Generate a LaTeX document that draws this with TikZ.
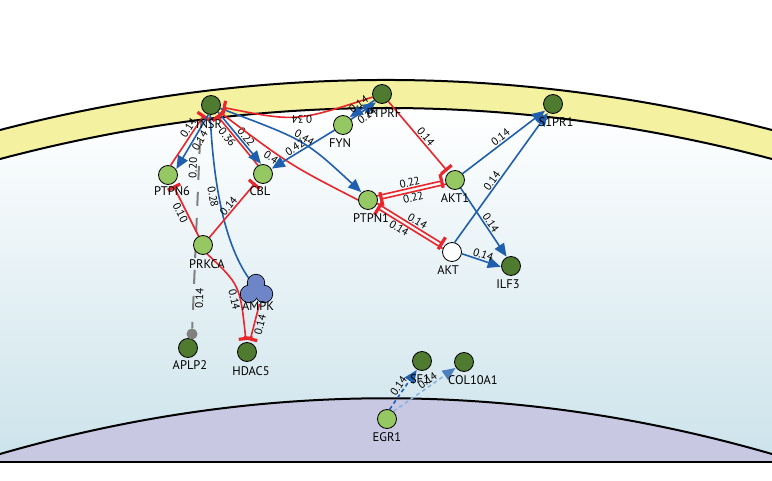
\documentclass[tikz,border=0pt]{standalone}
\usepackage{fontspec}
\setmainfont{PT Sans}
\usetikzlibrary{arrows.meta}
\definecolor{memyellow}{HTML}{F4F1A0}
\definecolor{cellblue}{HTML}{CCE3EB}
\definecolor{nucpurple}{HTML}{C8C8E3}
\definecolor{lgreen}{HTML}{95C763}
\definecolor{dgreen}{HTML}{4E7B30}
\definecolor{ered}{HTML}{E8262B}
\definecolor{eblue}{HTML}{1F5FAE}
\definecolor{elblue}{HTML}{8DB3DF}
\definecolor{ampkblue}{HTML}{6E85C8}
\definecolor{greyedge}{HTML}{808080}
\pgfdeclarelayer{bg}
\pgfdeclarelayer{edges}
\pgfsetlayers{bg,edges,main}
\begin{document}
\begin{tikzpicture}[x=1pt,y=-1pt,
  gene/.style={circle,draw=black,line width=0.8pt,minimum size=19pt,inner sep=0pt},
  lg/.style={gene,fill=lgreen},
  dg/.style={gene,fill=dgreen},
  wg/.style={gene,fill=white},
  lab/.style={font=\fontsize{12.5}{13}\selectfont,text=black,inner sep=0pt},
  elabf/.style={font=\fontsize{11}{11}\selectfont,text=black,inner sep=1pt},
  elab/.style={elabf,sloped},
  act/.style={eblue,line width=1.6pt,-{Triangle[width=11pt,length=13pt]},shorten >=0.5pt},
  actd/.style={act,dash pattern=on 4pt off 3pt},
  actl/.style={elblue,line width=1.6pt,dash pattern=on 4pt off 3pt,-{Triangle[width=11pt,length=13pt,fill=eblue!80,color=eblue!80]},shorten >=0.5pt},
  inh/.style={ered,line width=1.6pt,-{Bar[width=14pt,line width=3.2pt]},shorten >=2pt},
  gline/.style={greyedge,line width=2pt,dash pattern=on 14pt off 12pt}
]
\useasboundingbox (0,0) rectangle (772,481);
\begin{pgfonlayer}{bg}
\fill[white] (0,0) rectangle (772,481);
\begin{scope}
\clip (0,159) .. controls (257.3,91) and (514.7,91) .. (772,159) -- (772,462) -- (0,462) -- cycle;
\shade[top color=white,bottom color=cellblue] (0,108) rectangle (772,462);
\end{scope}
\fill[memyellow] (0,130) .. controls (257.3,63.3) and (514.7,63.3) .. (772,130) -- (772,159) .. controls (514.7,91) and (257.3,91) .. (0,159) -- cycle;
\draw[line width=2pt] (0,130) .. controls (257.3,63.3) and (514.7,63.3) .. (772,130);
\draw[line width=2pt] (0,159) .. controls (257.3,91) and (514.7,91) .. (772,159);
\fill[nucpurple] (0,454) .. controls (257.3,379.7) and (514.7,379.7) .. (772,454) -- (772,462) -- (0,462) -- cycle;
\draw[line width=2pt] (0,454) .. controls (257.3,379.7) and (514.7,379.7) .. (772,454);
\draw[line width=2pt] (0,462) -- (772,462);
\end{pgfonlayer}

% nodes
\node[dg] (INSR) at (211,105) {};
\node[dg] (PTPRF) at (382,94) {};
\node[lg] (FYN) at (343,125) {};
\node[dg] (S1PR1) at (553,104) {};
\node[lg] (PTPN6) at (168,175) {};
\node[lg] (CBL) at (263,174) {};
\node[lg] (PTPN1) at (368,200) {};
\node[lg] (AKT1) at (455,180) {};
\node[wg] (AKT) at (452,252) {};
\node[dg] (ILF3) at (511,266) {};
\node[lg] (PRKCA) at (203,245) {};
\node[circle,minimum size=28pt,inner sep=0pt] (AMPK) at (257,290) {};
\foreach \a/\b in {256/283,249/294,264/294} \draw[line width=1.6pt] (\a,\b) circle[radius=8.3];
\foreach \a/\b in {256/283,249/294,264/294} \fill[ampkblue] (\a,\b) circle[radius=8.3];
\node[dg] (APLP2) at (188,348) {};
\node[circle,fill=greyedge,minimum size=11pt,inner sep=0pt] (gdot) at (192,334) {};
\node[dg] (HDAC5) at (247,352) {};
\node[dg] (SF1) at (422,361) {};
\node[dg] (COL10A1) at (464,362) {};
\node[lg] (EGR1) at (387,419) {};
\coordinate (g0) at (200,140);

% labels
\node[lab] (INSRl) at (209,124) {INSR};
\node[lab] (PTPRFl) at (384,113) {PTPRF};
\node[lab] (FYNl) at (340,143) {FYN};
\node[lab] (S1PR1l) at (556,122) {S1PR1};
\node[lab] (PTPN6l) at (172,191) {PTPN6};
\node[lab] (CBLl) at (260,191) {CBL};
\node[lab] (PTPN1l) at (371,218) {PTPN1};
\node[lab] (AKT1l) at (455,198) {AKT1};
\node[lab] (AKTl) at (448,270) {AKT};
\node[lab] (ILF3l) at (508,284) {ILF3};
\node[lab] (PRKCAl) at (207,264) {PRKCA};
\node[lab] (AMPKl) at (258,306) {AMPK};
\node[lab] (APLP2l) at (190,365) {APLP2};
\node[lab] (HDAC5l) at (251,371) {HDAC5};
\node[lab] (SF1l) at (420,379) {SF1};
\node[lab] (COL10A1l) at (473,380) {COL10A1};
\node[lab] (EGR1l) at (387,437) {EGR1};

\begin{pgfonlayer}{edges}
% grey dashed
\draw[gline] (g0) -- (gdot) node[elab,pos=.15,above]{0.20} node[elab,pos=.84,below]{0.14};
% INSR neighbourhood
\draw[inh] (PTPRF) .. controls (296,122) .. (INSR) node[elabf,pos=.45,above=3pt,rotate=180]{0.34};
\draw[inh] (PTPN6.75) -- (INSR.235) node[elab,pos=.65,above]{0.14};
\draw[act] (INSR.255) -- (PTPN6.35) node[elab,pos=.42,below]{0.14};
\draw[inh] (CBL.120) -- (INSR.-62) node[elab,pos=.62,below]{0.36};
\draw[act] (INSR.-45) -- (CBL.100) node[elab,pos=.55,above]{0.22};
\draw[act] (INSR.-20) .. controls (305,140) .. (PTPN1.130) node[elab,pos=.5,above]{0.44};
\draw[inh] (PTPN1.180) .. controls (290,165) .. (INSR.-40) node[elab,pos=.62,below]{0.42};
\draw[act] (FYN) -- (CBL) node[elab,pos=.58,above]{0.42};
\draw[eblue,line width=1.6pt] (INSR.265) .. controls (213,175) and (222,240) .. (AMPK.125) node[elab,pos=.45,below]{0.28};
% PTPRF / FYN
\draw[act] (PTPRF.220) -- (FYN.50) node[elab,pos=.5,above]{0.14};
\draw[act] (FYN.35) -- (PTPRF.235) node[elab,pos=.5,below]{0.14};
\draw[inh] (PTPRF) -- (AKT1) node[elab,pos=.55,above]{0.14};
% PTPN1 / AKT1 / AKT
\draw[inh] (PTPN1.25) -- (AKT1.181) node[elab,pos=.5,above]{0.22};
\draw[inh] (AKT1.205) -- (PTPN1.1) node[elab,pos=.5,below]{0.22};
\draw[inh] (PTPN1.-20) -- (AKT.136) node[elab,pos=.55,above]{0.14};
\draw[inh] (AKT.160) -- (PTPN1.-44) node[elab,pos=.6,below]{0.14};
% S1PR1 and ILF3
\draw[act] (AKT1.40) -- (S1PR1.220) node[elab,pos=.5,above]{0.14};
\draw[act] (AKT.75) -- (S1PR1.240) node[elab,pos=.45,above]{0.14};
\draw[act] (AKT1.-55) -- (ILF3.115) node[elab,pos=.55,above]{0.14};
\draw[act] (AKT.-10) -- (ILF3.185) node[elab,pos=.5,above]{0.14};
% PRKCA
\draw[inh] (PRKCA) -- (PTPN6) node[elab,pos=.5,below]{0.10};
\draw[inh] (PRKCA) -- (CBL) node[elab,pos=.5,above]{0.14};
\draw[inh] (PRKCA.-65) .. controls (240,285) .. (HDAC5.95) node[elab,pos=.64,below]{0.14};
\draw[inh] (AMPK.-80) -- (HDAC5.75) node[elab,pos=.5,below]{0.14};
% EGR1
\draw[actd] (EGR1.75) -- (SF1.240) node[elab,pos=.5,above]{0.14};
\draw[actl] (EGR1.50) -- (COL10A1.215) node[elab,pos=.6,above]{0.14};
\end{pgfonlayer}
\end{tikzpicture}
\end{document}
